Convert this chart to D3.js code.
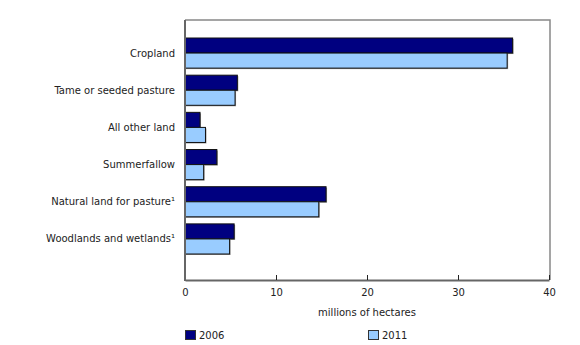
<!DOCTYPE html>
<html>
<head>
<meta charset="utf-8">
<script src="https://cdn.jsdelivr.net/npm/d3@7"></script>
<style>
  body { margin: 0; background: #fff; }
  text { font-family: "DejaVu Sans", Verdana, sans-serif; font-size: 10px; fill: #222; }
</style>
</head>
<body>
<div id="chart"></div>
<script>
// land use categories, top to bottom
const categories = ["Cropland", "Tame or seeded pasture", "All other land", "Summerfallow",
    "Natural land for pasture\u00B9", "Woodlands and wetlands\u00B9"];
const years = ["2006", "2011"];
const values2006 = [36.0, 5.75, 1.65, 3.5, 15.5, 5.4];
const values2011 = [35.4, 5.5, 2.25, 2.05, 14.7, 4.9];
const xTicks = [0, 10, 20, 30, 40];
const colors = ["#000080", "#99ccff"];

const rows = categories.map((c, i) => ({cat: c, vals: [values2006[i], values2011[i]]}));

const svg = d3.select("#chart")
    .append("svg")
    .attr("width", 580)
    .attr("height", 345);

const x = d3.scaleLinear()
    .domain([0, 40])
    .range([185, 549]);

const y = d3.scaleBand()
    .domain(categories)
    .range([38, 254])
    .paddingInner(0.19)
    .paddingOuter(0);

const sub = d3.scaleBand()
    .domain(years)
    .range([0, y.bandwidth()]);

// frame (top and right)
svg.append("path")
    .attr("d", "M185,20H550V280")
    .attr("fill", "none")
    .attr("stroke", "#888")
    .attr("stroke-width", 1.5);

const groups = svg.selectAll(".grp")
    .data(rows)
    .enter()
    .append("g")
    .attr("class", "grp")
    .attr("transform", d => "translate(0," + y(d.cat) + ")");

years.forEach(function(yr, j) {
    // little gray shadow behind each bar
    groups.append("rect")
        .attr("x", x(0) + 1)
        .attr("y", sub(yr) + 1)
        .attr("width", d => x(d.vals[j]) - x(0))
        .attr("height", sub.bandwidth())
        .attr("fill", "#999");
    groups.append("rect")
        .attr("x", x(0))
        .attr("y", sub(yr))
        .attr("width", d => x(d.vals[j]) - x(0))
        .attr("height", sub.bandwidth())
        .attr("fill", colors[j])
        .attr("stroke", "#111")
        .attr("stroke-width", 1);
});

// category labels
svg.selectAll(".lab")
    .data(categories)
    .enter()
    .append("text")
    .attr("class", "lab")
    .attr("x", 175)
    .attr("y", d => y(d) + y.bandwidth() / 2)
    .attr("dy", "0.35em")
    .attr("text-anchor", "end")
    .text(d => d);

// x axis, ticks pointing up
const xAxis = svg.append("g")
    .attr("transform", "translate(0,280)")
    .call(d3.axisBottom(x).tickValues(xTicks).tickSizeInner(-5).tickSizeOuter(0).tickPadding(9));
xAxis.select(".domain").attr("stroke", "#666").attr("stroke-width", 2);
xAxis.selectAll(".tick line").attr("stroke", "#222");
xAxis.selectAll("text").style("font-family", "DejaVu Sans, Verdana, sans-serif").style("font-size", "10px").attr("fill", "#222");

// y axis line
svg.append("line")
    .attr("x1", 185).attr("x2", 185)
    .attr("y1", 20).attr("y2", 281)
    .attr("stroke", "#666")
    .attr("stroke-width", 2);

svg.append("text")
    .attr("x", (x(0) + x(40)) / 2)
    .attr("y", 312)
    .attr("dy", "0.35em")
    .attr("text-anchor", "middle")
    .text("millions of hectares");

// legend
const legX = [185, 368];
years.forEach(function(yr, j) {
    svg.append("rect")
        .attr("x", legX[j] + 0.5)
        .attr("y", 330.5)
        .attr("width", 10)
        .attr("height", 9)
        .attr("fill", colors[j])
        .attr("stroke", "#333");
    svg.append("text")
        .attr("x", legX[j] + 14)
        .attr("y", 335)
        .attr("dy", "0.35em")
        .text(yr);
});
</script>
</body>
</html>
